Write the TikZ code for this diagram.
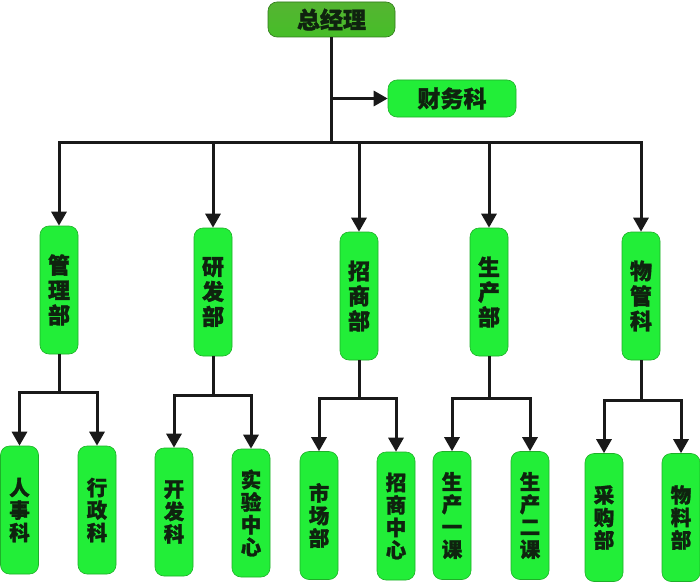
\documentclass[tikz,border=0pt]{standalone}
\usepackage{fontspec}
\newfontfamily\cjk[BoldFeatures={FakeBold=1.4}]{Noto Sans CJK SC}
\usetikzlibrary{arrows.meta}
\definecolor{boxgreen}{RGB}{34,238,56}
\definecolor{boxedge}{RGB}{30,175,40}
\definecolor{topA}{RGB}{85,180,50}
\definecolor{topM}{RGB}{60,150,32}
\definecolor{topB}{RGB}{70,190,40}
\definecolor{txt}{RGB}{15,35,15}
\tikzset{
  base/.style={rounded corners=9pt, inner sep=0pt, align=center, text=txt, draw=boxedge, line width=0.6pt},
  topbox/.style={base, top color=topA, middle color=topM, bottom color=topB, draw=topM!80!black, minimum width=127pt, minimum height=35pt, font=\cjk\bfseries\fontsize{23}{24}\selectfont},
  sidebox/.style={base, fill=boxgreen, minimum width=128pt, minimum height=37pt, font=\cjk\bfseries\fontsize{23}{24}\selectfont},
  dept/.style={base, fill=boxgreen, minimum width=38pt, minimum height=128pt, font=\cjk\bfseries\fontsize{22}{25}\selectfont},
  sub/.style={base, fill=boxgreen, minimum width=38pt, minimum height=128pt, font=\cjk\bfseries\fontsize{20.5}{22.5}\selectfont},
  conn/.style={line width=3pt, black!90},
  arr/.style={conn, -{Triangle[length=14pt,width=15pt]}},
}
\begin{document}
\begin{tikzpicture}[x=1pt,y=-1pt]
\useasboundingbox[fill=white] (0,0) rectangle (700,583);
% top
\node[topbox] (gm) at (331.5,19.5) {总经理};
\node[sidebox] (cw) at (452,98.5) {财务科};
% departments
\node[dept] (d1) at (59,290) {管\\理\\部};
\node[dept] (d2) at (213,292) {研\\发\\部};
\node[dept] (d3) at (359,296) {招\\商\\部};
\node[dept] (d4) at (489,292) {生\\产\\部};
\node[dept] (d5) at (641,296) {物\\管\\科};
% sub units
\node[sub] (c11) at (19.5,510) {人\\事\\科};
\node[sub] (c12) at (97,510) {行\\政\\科};
\node[sub] (c21) at (174,512) {开\\发\\科};
\node[sub] (c22) at (251,513) {实\\验\\中\\心};
\node[sub] (c31) at (319,515.5) {市\\场\\部};
\node[sub] (c32) at (396,516) {招\\商\\中\\心};
\node[sub] (c41) at (452,515.5) {生\\产\\一\\课};
\node[sub] (c42) at (530,515.5) {生\\产\\二\\课};
\node[sub] (c51) at (604,517.5) {采\\购\\部};
\node[sub] (c52) at (681,517.5) {物\\料\\部};
% junction coordinates
\coordinate (j0) at (331.5,142);
\coordinate (b1) at (59,392);
\coordinate (b2) at (213,395);
\coordinate (b3) at (359,398);
\coordinate (b4) at (489,398);
\coordinate (b5) at (641,400);
% top connectors
\draw[conn] (gm.south) -- (j0);
\draw[arr] (gm.south |- cw.west) -- (cw.west);
\draw[conn, line cap=rect] (d1.north |- j0) -- (d5.north |- j0);
\foreach \d in {d1,d2,d3,d4,d5}{
  \draw[arr] (\d.north |- j0) -- (\d.north);
}
% department to sub units
\foreach \d/\a/\b/\j in {d1/c11/c12/b1, d2/c21/c22/b2, d3/c31/c32/b3, d4/c41/c42/b4, d5/c51/c52/b5}{
  \draw[conn] (\d.south) -- (\j);
  \draw[conn, line cap=rect] (\a.north |- \j) -- (\b.north |- \j);
  \draw[arr] (\a.north |- \j) -- (\a.north);
  \draw[arr] (\b.north |- \j) -- (\b.north);
}
\end{tikzpicture}
\end{document}
